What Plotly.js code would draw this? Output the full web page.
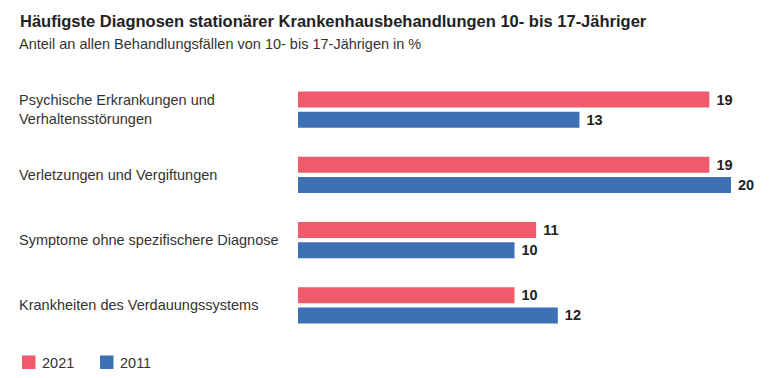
<!DOCTYPE html>
<html>
<head>
<meta charset="utf-8">
<script src="https://cdn.plot.ly/plotly-3.0.1.min.js"></script>
<style>html,body{margin:0;padding:0;background:#fff;}#chart{width:770px;height:378px;}</style>
</head>
<body>
<div id="chart"></div>
<script>
const categories = [
  "Psychische Erkrankungen und<br>Verhaltensstörungen",
  "Verletzungen und Vergiftungen",
  "Symptome ohne spezifischere Diagnose",
  "Krankheiten des Verdauungssystems"
];
const values2021 = [19, 19, 11, 10];
const values2011 = [13, 20, 10, 12];
const seriesNames = ["2021", "2011"];
const seriesColors = ["#ef5a6c", "#3e70b4"];
const titleText = "Häufigste Diagnosen stationärer Krankenhausbehandlungen 10- bis 17-Jähriger";
const subtitleText = "Anteil an allen Behandlungsfällen von 10- bis 17-Jährigen in %";

const W = 770, H = 378;
const L = 298, R = 22, T = 77, B = 40;
const plotW = W - L - R, plotH = H - T - B;
const font = "Liberation Sans, Arial, sans-serif";
const px = x => (x - L) / plotW;           // container px -> paper x
const py = y => (H - B - y) / plotH;       // container px -> paper y

function barTrace(vals, name, color) {
  return {
    type: "bar", orientation: "h",
    x: vals, y: categories, name: name,
    marker: {color: color},
    text: vals.map(v => "\u00a0" + v),
    textposition: "outside",
    constraintext: "none",
    cliponaxis: false,
    textfont: {family: font, size: 14.5, color: "#222", weight: "bold"},
    hoverinfo: "skip"
  };
}

const data = [
  barTrace(values2021, seriesNames[0], seriesColors[0]),
  barTrace(values2011, seriesNames[1], seriesColors[1])
];

const annotations = categories.map(c => ({
  xref: "paper", yref: "y", x: px(17), y: c,
  xanchor: "left", yanchor: "middle", align: "left",
  text: c, showarrow: false,
  font: {family: font, size: 14.5, color: "#333"}
}));
annotations.push({
  xref: "paper", yref: "paper", x: px(17), y: py(44),
  xanchor: "left", yanchor: "middle", text: subtitleText, showarrow: false,
  font: {family: font, size: 14.5, color: "#333"}
});

// custom legend
const legendX = [22, 100];
const shapes = [];
seriesNames.forEach((n, i) => {
  shapes.push({
    type: "rect", xref: "paper", yref: "paper",
    x0: px(legendX[i]), x1: px(legendX[i] + 13.5),
    y0: py(369), y1: py(355.5),
    fillcolor: seriesColors[i], line: {width: 0}
  });
  annotations.push({
    xref: "paper", yref: "paper", x: px(legendX[i] + 18), y: py(362.5),
    xanchor: "left", yanchor: "middle", text: n, showarrow: false,
    font: {family: font, size: 14.5, color: "#333"}
  });
});

const layout = {
  width: W, height: H,
  margin: {l: L, r: R, t: T, b: B, autoexpand: false},
  paper_bgcolor: "#fff", plot_bgcolor: "#fff",
  title: {
    text: "<b>" + titleText + "</b>",
    xref: "container", yref: "container",
    x: 20 / W, xanchor: "left",
    y: 1 - 21 / H, yanchor: "middle",
    font: {family: font, size: 16.5, color: "#222"}
  },
  barmode: "group",
  bargap: 0.385,
  bargroupgap: 0.2,
  xaxis: {range: [0, plotW / 21.65], visible: false, fixedrange: true},
  yaxis: {type: "category", range: [3.5, -0.5], showticklabels: false, showgrid: false,
          zeroline: false, showline: false, ticks: "", fixedrange: true},
  showlegend: false,
  shapes: shapes,
  annotations: annotations
};

Plotly.newPlot("chart", data, layout, {displayModeBar: false, staticPlot: true});
</script>
</body>
</html>
